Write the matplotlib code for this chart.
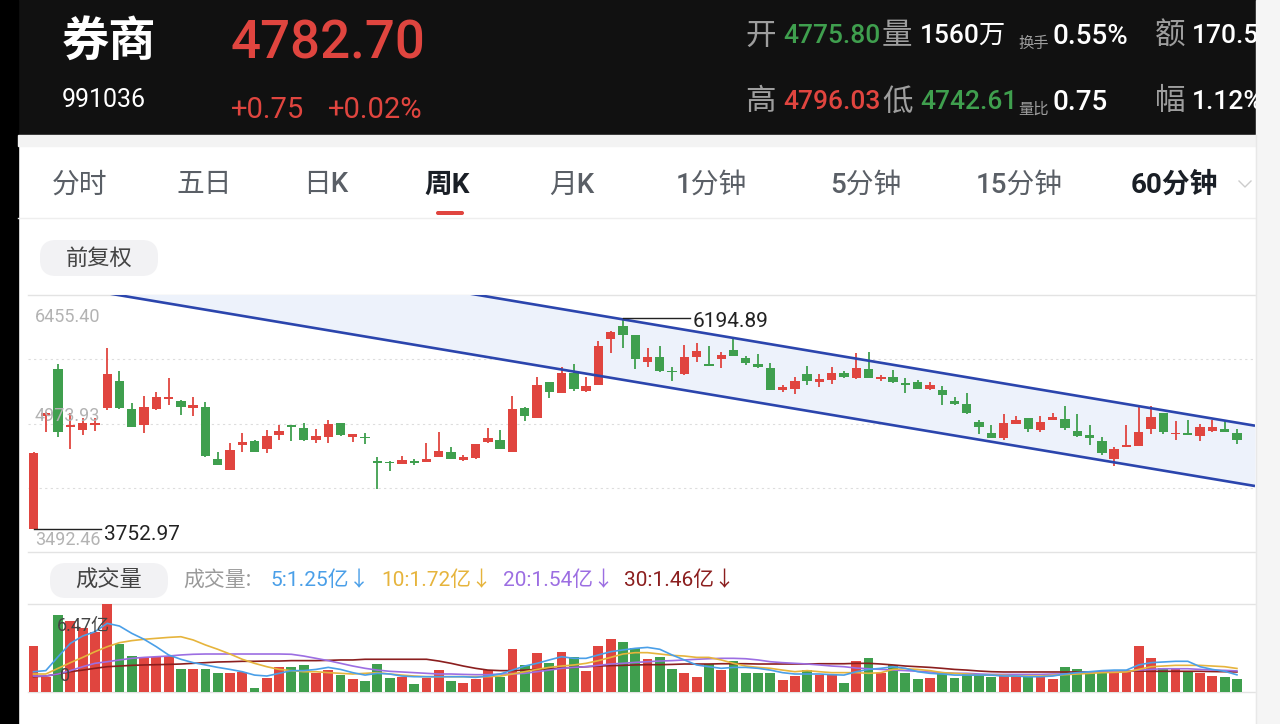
import numpy as np
import matplotlib

matplotlib.use("Agg")
import matplotlib.pyplot as plt
from matplotlib.patches import Rectangle, FancyBboxPatch

W, H = 1280, 724
CJK = ["Noto Sans CJK SC", "DejaVu Sans"]
NUM = ["Roboto", "Noto Sans CJK SC", "DejaVu Sans"]
plt.rcParams["font.family"] = CJK

RED = "#e0453f"
GREEN = "#3f9f4e"
GREY_TXT = "#9e9e9e"

# weekly candles (price), oldest first
opens = [3760, 5060, 5602, 4937, 4899, 4957, 5149, 5468, 5137, 4957,
         5137, 5253, 5237, 5149, 5168, 4561, 4438, 4726, 4772, 4680,
         4841, 4957, 4918, 4784, 4814, 4976, 4814, 4822, 4542, 4534,
         4507, 4542, 4534, 4591, 4649, 4553, 4572, 4764, 4784, 4649,
         5149, 5041, 5448, 5329, 5552, 5345, 5418, 5944, 6098, 5994,
         5687, 5744, 5575, 5541, 5737, 5660, 5714, 5821, 5725, 5660,
         5610, 5360, 5372, 5545, 5456, 5475, 5552, 5495, 5602, 5487,
         5506, 5437, 5456, 5368, 5360, 5233, 5195, 4995, 4868, 4803,
         4968, 5033, 4899, 5014, 5022, 4891, 4845, 4776, 4565, 4707,
         4718, 4907, 5091, 4849, 4868, 4834, 4891, 4907, 4860]
highs = [4645, 5110, 5660, 5091, 5033, 5033, 5840, 5583, 5214, 5291,
         5341, 5495, 5240, 5276, 5226, 4641, 4745, 4868, 4784, 4899,
         4957, 4960, 4983, 4907, 5014, 4983, 4855, 4860, 4592, 4536,
         4599, 4561, 4745, 4880, 4707, 4611, 4738, 4926, 4899, 5291,
         5160, 5506, 5450, 5621, 5660, 5506, 5929, 6035, 6194.89, 5996,
         5840, 5867, 5621, 5879, 5898, 5867, 5802, 5956, 5752, 5771,
         5668, 5418, 5506, 5637, 5545, 5621, 5579, 5783, 5802, 5533,
         5591, 5495, 5475, 5456, 5410, 5276, 5322, 5014, 4957, 5083,
         5060, 5035, 5060, 5099, 5176, 5083, 4957, 4822, 4699, 4957,
         5160, 5176, 5099, 5003, 5014, 4964, 5014, 5003, 4907]
lows = [3752.97, 4880, 4822, 4676, 4841, 4891, 5130, 5140, 4930, 4861,
        5130, 5187, 5072, 5060, 4590, 4495, 4438, 4649, 4649, 4630,
        4784, 4776, 4776, 4745, 4745, 4830, 4764, 4738, 4219, 4426,
        4505, 4495, 4532, 4589, 4565, 4545, 4570, 4745, 4680, 4647,
        5007, 5039, 5264, 5322, 5352, 5337, 5416, 5783, 5840, 5598,
        5621, 5571, 5468, 5533, 5687, 5635, 5610, 5754, 5644, 5610,
        5358, 5341, 5314, 5418, 5398, 5429, 5504, 5483, 5493, 5468,
        5437, 5329, 5366, 5360, 5187, 5187, 5089, 4853, 4801, 4784,
        4966, 4880, 4872, 5012, 4899, 4822, 4726, 4611, 4484, 4705,
        4716, 4853, 4853, 4784, 4841, 4776, 4880, 4880, 4738]
closes = [4638, 5099, 4880, 4957, 4976, 4983, 5545, 5149, 4937, 5168,
          5283, 5276, 5160, 5187, 4599, 4495, 4668, 4764, 4649, 4834,
          4891, 4937, 4784, 4834, 4964, 4841, 4853, 4803, 4522, 4515,
          4553, 4515, 4565, 4661, 4565, 4584, 4734, 4811, 4680, 5137,
          5060, 5418, 5341, 5560, 5372, 5410, 5871, 6033, 5994, 5714,
          5744, 5583, 5564, 5744, 5810, 5637, 5764, 5756, 5675, 5621,
          5360, 5391, 5468, 5468, 5483, 5552, 5506, 5610, 5495, 5514,
          5456, 5418, 5368, 5418, 5302, 5199, 5091, 4937, 4803, 4983,
          5014, 4907, 4995, 5053, 4926, 4834, 4811, 4630, 4680, 4726,
          4880, 5045, 4872, 4868, 4841, 4937, 4930, 4880, 4782.70]

# weekly volume, 亿
volume = [3.41, 1.11, 5.68, 5.26, 4.69, 4.44, 6.47, 3.51, 2.67, 2.47,
          2.54, 2.64, 1.65, 1.65, 1.68, 1.36, 1.41, 1.48, 0.25, 0.99,
          1.80, 1.80, 1.95, 1.41, 1.60, 1.23, 0.91, 0.81, 2.02, 0.99,
          1.11, 0.54, 1.04, 1.60, 0.81, 0.67, 0.91, 1.60, 1.11, 3.14,
          1.98, 2.84, 2.10, 2.96, 2.59, 1.56, 3.38, 3.88, 3.70, 3.21,
          2.40, 2.59, 1.65, 1.36, 1.06, 2.02, 1.60, 2.27, 1.36, 1.36,
          1.36, 0.86, 1.16, 1.60, 1.23, 1.23, 0.67, 2.30, 2.52, 1.36,
          1.98, 1.41, 0.91, 0.99, 1.36, 1.04, 1.41, 1.23, 1.06, 1.23,
          1.16, 1.06, 1.11, 0.91, 1.80, 1.65, 1.48, 1.36, 1.41, 1.56,
          3.41, 2.47, 1.73, 1.73, 1.56, 1.36, 1.16, 1.06, 0.91]

# volume moving averages as drawn by the app, 亿
ma5 = [1.48, 1.56, 2.59, 3.58, 4.12, 4.44, 5.06, 4.86, 4.32, 3.88,
       3.33, 2.72, 2.40, 2.15, 1.98, 1.80, 1.65, 1.48, 1.23, 1.16,
       1.36, 1.56, 1.56, 1.65, 1.80, 1.65, 1.41, 1.23, 1.36, 1.31,
       1.16, 1.11, 1.11, 1.11, 1.11, 1.11, 1.06, 1.16, 1.31, 1.60,
       1.90, 2.10, 2.35, 2.59, 2.47, 2.47, 2.72, 2.96, 3.09, 3.21,
       3.28, 3.14, 2.72, 2.35, 1.98, 1.85, 1.73, 1.80, 1.80, 1.73,
       1.60, 1.41, 1.31, 1.31, 1.31, 1.26, 1.23, 1.48, 1.65, 1.73,
       1.85, 1.73, 1.48, 1.36, 1.31, 1.23, 1.23, 1.23, 1.23, 1.16,
       1.16, 1.11, 1.11, 1.16, 1.31, 1.41, 1.48, 1.56, 1.60, 1.60,
       1.98, 2.15, 2.20, 2.25, 2.25, 1.85, 1.65, 1.51, 1.25]
ma10 = [1.31, 1.31, 1.73, 2.15, 2.54, 2.96, 3.33, 3.63, 3.78, 3.88,
        3.95, 4.02, 4.07, 3.83, 3.46, 3.14, 2.79, 2.40, 2.10, 1.85,
        1.65, 1.56, 1.48, 1.48, 1.41, 1.36, 1.31, 1.36, 1.41, 1.31,
        1.23, 1.16, 1.11, 1.11, 1.11, 1.11, 1.11, 1.11, 1.16, 1.31,
        1.48, 1.65, 1.80, 1.90, 1.98, 2.10, 2.30, 2.54, 2.79, 2.89,
        2.89, 2.79, 2.69, 2.64, 2.54, 2.54, 2.35, 2.10, 1.90, 1.80,
        1.73, 1.60, 1.48, 1.56, 1.48, 1.41, 1.41, 1.41, 1.36, 1.41,
        1.65, 1.70, 1.65, 1.56, 1.41, 1.36, 1.31, 1.23, 1.23, 1.21,
        1.16, 1.16, 1.16, 1.21, 1.26, 1.31, 1.36, 1.41, 1.43, 1.46,
        1.65, 1.85, 1.90, 1.95, 1.95, 1.95, 1.90, 1.85, 1.72]
ma20 = [1.16, 1.16, 1.31, 1.56, 1.85, 2.10, 2.22, 2.35, 2.47, 2.54,
        2.59, 2.64, 2.72, 2.77, 2.79, 2.79, 2.79, 2.79, 2.79, 2.79,
        2.79, 2.77, 2.64, 2.47, 2.30, 2.10, 1.90, 1.73, 1.60, 1.51,
        1.46, 1.41, 1.36, 1.31, 1.31, 1.28, 1.26, 1.26, 1.31, 1.31,
        1.36, 1.48, 1.60, 1.73, 1.80, 1.85, 1.95, 2.05, 2.10, 2.17,
        2.22, 2.27, 2.30, 2.35, 2.40, 2.44, 2.47, 2.47, 2.44, 2.35,
        2.22, 2.15, 2.10, 2.05, 1.98, 1.90, 1.85, 1.75, 1.70, 1.65,
        1.60, 1.56, 1.51, 1.46, 1.41, 1.36, 1.36, 1.31, 1.28, 1.28,
        1.28, 1.28, 1.28, 1.31, 1.31, 1.36, 1.41, 1.46, 1.48, 1.51,
        1.60, 1.65, 1.70, 1.70, 1.70, 1.65, 1.60, 1.58, 1.54]
ma30 = [1.11, 1.16, 1.31, 1.48, 1.60, 1.73, 1.85, 1.90, 1.95, 1.98,
        2.00, 2.02, 2.05, 2.10, 2.15, 2.20, 2.22, 2.25, 2.25, 2.27,
        2.27, 2.30, 2.30, 2.30, 2.32, 2.35, 2.35, 2.40, 2.40, 2.40,
        2.40, 2.40, 2.40, 2.27, 2.10, 1.90, 1.73, 1.60, 1.56, 1.56,
        1.60, 1.65, 1.70, 1.75, 1.80, 1.85, 1.90, 1.93, 1.95, 1.98,
        2.00, 2.00, 2.02, 2.05, 2.05, 2.05, 2.07, 2.07, 2.07, 2.05,
        2.05, 2.05, 2.05, 2.05, 2.07, 2.07, 2.07, 2.10, 2.10, 2.05,
        1.98, 1.90, 1.85, 1.80, 1.73, 1.65, 1.60, 1.53, 1.48, 1.46,
        1.46, 1.46, 1.46, 1.46, 1.46, 1.46, 1.46, 1.46, 1.48, 1.51,
        1.53, 1.51, 1.51, 1.51, 1.51, 1.51, 1.49, 1.48, 1.46]

MA_LABELS = ["5:1.25亿↓", "10:1.72亿↓", "20:1.54亿↓", "30:1.46亿↓"]
MA_COLORS = ["#4a9fe8", "#e6b43c", "#9c6ee2", "#8b1e1e"]

# price axis range shown by the app
PRICE_LO, PRICE_HI = 3492.46, 6455.40

# hand-drawn channel: two anchor points per line, (candle index, price)
CH_LOWER = [(6.88, 6455.4), (99.47, 4253.3)]
CH_UPPER = [(36.2, 6455.4), (99.47, 4948.5)]

TABS = ["分时", "五日", "日K", "周K", "月K", "1分钟", "5分钟", "15分钟", "60分钟"]
TAB_X = [52, 176, 303, 424, 549, 676, 830, 976, 1131]
TAB_BOLD = {"周K", "60分钟"}


def line_at(x, pts):
    (x0, y0), (x1, y1) = pts
    return y0 + (y1 - y0) * (np.asarray(x) - x0) / (x1 - x0)


opens, highs, lows, closes = map(np.array, (opens, highs, lows, closes))
volume = np.array(volume)
idx = np.arange(len(opens))
colors = np.where(closes >= opens, RED, GREEN)

fig = plt.figure(figsize=(12.8, 7.24), dpi=100)
fig.patch.set_facecolor("white")

# UI layer in pixel coordinates
ui = fig.add_axes([0, 0, 1, 1])
ui.set_xlim(0, W)
ui.set_ylim(H, 0)
ui.axis("off")
ui.add_patch(Rectangle((0, 0), 1256, 135, color="#111111", zorder=1))
ui.add_patch(Rectangle((0, 0), 18, H, color="#000000", zorder=1))
ui.add_patch(Rectangle((18, 135), 1238, 11, color="#f3f3f3", zorder=1))
ui.add_patch(Rectangle((1256, 0), 24, H, color="#f5f5f5", zorder=10))
ui.plot([1256, 1256], [135, H], color="#e8e8e8", lw=1, zorder=11)

# header
ui.text(62, 42, "券商", color="white", fontsize=34, fontweight="bold", va="center", zorder=3)
ui.text(62, 100, "991036", color="white", fontsize=18, family=NUM, va="center", zorder=3)
ui.text(231, 44, "4782.70", color=RED, fontsize=38, family=NUM, fontweight="medium",
        va="center", zorder=3)
ui.text(231, 110, "+0.75", color=RED, fontsize=21, family=NUM, va="center", zorder=3)
ui.text(328, 110, "+0.02%", color=RED, fontsize=21, family=NUM, va="center", zorder=3)

header_rows = [
    (36, [("开", 745, GREY_TXT, 22), ("4775.80", 783, GREEN, 19), ("量", 882, GREY_TXT, 22),
          ("1560万", 920, "white", 19), ("换手", 1018, GREY_TXT, 11), ("0.55%", 1052, "white", 20),
          ("额", 1155, GREY_TXT, 22), ("170.5", 1192, "white", 19)]),
    (102, [("高", 745, GREY_TXT, 22), ("4796.03", 783, RED, 19), ("低", 882, GREY_TXT, 22),
           ("4742.61", 920, GREEN, 19), ("量比", 1018, GREY_TXT, 11), ("0.75", 1052, "white", 20),
           ("幅", 1155, GREY_TXT, 22), ("1.12%", 1192, "white", 19)]),
]
for y, items in header_rows:
    for txt, x, col, fs in items:
        yy = y + 8 if fs < 15 else y
        ui.text(x, yy, txt, color=col, fontsize=fs, family=NUM, fontweight="medium",
                va="center", zorder=3)

# tab bar
for name, x in zip(TABS, TAB_X):
    bold = name in TAB_BOLD
    ui.text(x, 185, name, fontsize=20, family=NUM, va="center",
            color="#1a1f26" if bold else "#5a5f66", fontweight="bold" if bold else "medium",
            zorder=3)
ui.plot([1239, 1245, 1251], [181, 187, 181], color="#cccccc", lw=1, zorder=3)
ui.add_patch(FancyBboxPatch((436, 211), 28, 4, boxstyle="round,pad=0,rounding_size=2",
                            fc=RED, ec="none", zorder=3))
ui.plot([18, 1256], [218, 218], color="#eeeeee", lw=1, zorder=2)
ui.add_patch(FancyBboxPatch((40, 240), 118, 36, boxstyle="round,pad=0,rounding_size=16",
                            fc="#f2f2f4", ec="none", zorder=2))
ui.text(99, 258, "前复权", fontsize=16, color="#444444", ha="center", va="center", zorder=3)

# panel frame lines
for y in (295, 552, 604, 692):
    ui.plot([28, 1256], [y, y], color="#e3e3e3", lw=1, zorder=2)

# volume legend row
ui.add_patch(FancyBboxPatch((50, 563), 118, 35, boxstyle="round,pad=0,rounding_size=16",
                            fc="#f2f2f4", ec="none", zorder=2))
ui.text(109, 580, "成交量", fontsize=16, color="#444444", ha="center", va="center", zorder=3)
ui.text(183, 580, "成交量:", fontsize=15, color="#9a9a9a", va="center", zorder=3)
for label, col, x in zip(MA_LABELS, MA_COLORS, [270, 381, 503, 624]):
    ui.text(x, 580, label, fontsize=15, color=col, family=NUM, va="center", zorder=3)

# price panel
axp = fig.add_axes([28 / W, 1 - 552 / H, (1255 - 28) / W, (552 - 295) / H])
axp.patch.set_alpha(0)
axp.set_xlim(-0.45, 99.47)
axp.set_ylim(PRICE_LO, PRICE_HI)
axp.axis("off")

levels = np.linspace(PRICE_LO, PRICE_HI, 5)
for lv in levels[1:-1]:
    axp.axhline(lv, color="#dddddd", lw=0.8, ls=(0, (2, 3)), zorder=0)

xs = np.array(axp.get_xlim())
lo_line = line_at(xs, CH_LOWER)
up_line = line_at(xs, CH_UPPER)
axp.fill_between(xs, lo_line, up_line, color="#edf2fb", zorder=0.5, lw=0)

axp.vlines(idx, lows, highs, colors=colors, lw=1.3, zorder=2)
body_lo = np.minimum(opens, closes)
body_h = np.maximum(np.abs(closes - opens), 14)
axp.bar(idx, body_h, bottom=body_lo, width=0.76, color=colors, zorder=2)

axp.plot(xs, lo_line, color="#2b45ad", lw=1.9, zorder=3, solid_capstyle="butt")
axp.plot(xs, up_line, color="#2b45ad", lw=1.9, zorder=3, solid_capstyle="butt")

label_kw = dict(xycoords=("axes fraction", "data"), textcoords="offset points",
                fontsize=13, color="#b3b3b3", family=NUM, zorder=4)
axp.annotate(f"{levels[-1]:.2f}", (0, levels[-1]), xytext=(5, -9), va="top", **label_kw)
axp.annotate(f"{levels[2]:.2f}", (0, levels[2]), xytext=(5, -1), va="bottom", **label_kw)
axp.annotate(f"{levels[0]:.2f}", (0, levels[0]), xytext=(5, 2), va="bottom", **label_kw)

hi_i = int(np.argmax(highs))
lo_i = int(np.argmin(lows))
axp.plot([hi_i, hi_i + 5.5], [highs[hi_i]] * 2, color="#222222", lw=1, zorder=4)
axp.annotate(f"{highs[hi_i]:.2f}", (hi_i + 5.6, highs[hi_i]), xytext=(1, -3),
             textcoords="offset points", va="center", fontsize=15, color="#222222",
             family=NUM, zorder=5)
axp.plot([lo_i, lo_i + 5.5], [lows[lo_i]] * 2, color="#222222", lw=1, zorder=4)
axp.annotate(f"{lows[lo_i]:.2f}", (lo_i + 5.6, lows[lo_i]), xytext=(1, -4),
             textcoords="offset points", va="center", fontsize=15, color="#222222",
             family=NUM, zorder=5)

# volume panel
axv = fig.add_axes([28 / W, 1 - 691.7 / H, (1255 - 28) / W, (691.7 - 604.3) / H])
axv.patch.set_alpha(0)
axv.set_xlim(-0.45, 99.47)
axv.set_ylim(0, volume.max())
axv.axis("off")
axv.bar(idx, volume, width=0.8, color=colors, zorder=2)
for ma, col in zip([ma30, ma20, ma10, ma5], MA_COLORS[::-1]):
    axv.plot(idx, ma, color=col, lw=1.2, zorder=3)
axv.annotate(f"{volume.max():.2f}亿", (0, 1), xycoords="axes fraction", xytext=(21, -9),
             textcoords="offset points", va="top", fontsize=13, color="#444444",
             family=NUM, zorder=5)
axv.annotate("0", (0, 0), xycoords="axes fraction", xytext=(23, 5),
             textcoords="offset points", va="bottom", fontsize=13, color="#444444",
             family=NUM, zorder=5)

fig.savefig("out.png", dpi=100)
